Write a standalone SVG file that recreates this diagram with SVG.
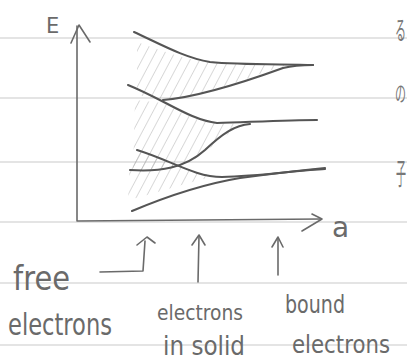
<svg xmlns="http://www.w3.org/2000/svg" width="407" height="362" viewBox="0 0 407 362">
<style>
.rule{stroke:#c9c9c9;stroke-width:1;fill:none}
.axis{stroke:#6a6a6a;stroke-width:1.6;fill:none;stroke-linecap:round;stroke-linejoin:round}
.curve{stroke:#555;stroke-width:2.1;fill:none;stroke-linecap:round}
.hatch{fill:url(#hatch);stroke:none}
.lbl{font-family:"DejaVu Sans","Liberation Sans",sans-serif;fill:#6a6a6a}
.edge{font-family:"Noto Sans CJK JP",sans-serif;fill:#777;font-size:20px}
</style>
<defs>
<pattern id="hatch" width="8.5" height="8.5" patternUnits="userSpaceOnUse" patternTransform="rotate(28)">
<line x1="0" y1="0" x2="0" y2="8.5" stroke="#aaaaaa" stroke-width="0.9"/>
</pattern>
</defs>
<rect width="407" height="362" fill="#ffffff"/>
<g id="paper">
<line class="rule" x1="0" y1="38" x2="407" y2="38"/>
<line class="rule" x1="0" y1="98" x2="407" y2="98"/>
<line class="rule" x1="0" y1="162" x2="407" y2="162"/>
<line class="rule" x1="0" y1="222" x2="407" y2="222"/>
<line class="rule" x1="0" y1="283" x2="407" y2="283"/>
<line class="rule" x1="0" y1="345" x2="407" y2="345"/>
</g>
<g id="hatching">
<path class="hatch" d="M137,42 C160,50 185,60 210,62 C240,64 270,64 292,64 C260,72 220,92 165,100 L137,95 Z"/>
<path class="hatch" d="M135,100 L163,103 C185,115 200,122 217,123 L245,124 C230,130 215,145 205,152 C190,165 165,172 133,172 Z"/>
<path class="hatch" d="M130,157 L140,151 C165,158 190,172 215,176 C190,182 160,192 128,200 Z"/>
</g>
<g id="axes">
<path class="axis" d="M77,26 L77,221 L321,219"/>
<path class="axis" d="M71,43 L79,25 L90,42"/>
<path class="axis" d="M312,214 L322,219 L302,231"/>
<text class="lbl" x="46" y="33" font-size="21">E</text>
<text class="lbl" x="332" y="237" font-size="28">a</text>
</g>
<g id="bands">
<path class="curve" d="M134,32 C160,44 185,58 210,62 C240,65 285,64 313,65"/>
<path class="curve" d="M163,100 C200,97 250,80 283,68 C295,65 305,65 313,65"/>
<path class="curve" d="M128,85 C165,100 190,120 217,123 C250,122 290,120 317,120"/>
<path class="curve" d="M130,170 C160,172 185,168 205,150 C222,134 235,125 250,124"/>
<path class="curve" d="M137,150 C170,160 195,177 222,177 C260,176 300,170 325,169"/>
<path class="curve" d="M132,211 C170,195 210,183 240,178 C270,174 305,170 325,168"/>
</g>
<g id="connectors">
<path class="axis" d="M100,272 L143,271 L145,241"/>
<path class="axis" d="M137,245 L147,237 L155,243"/>
<path class="axis" d="M198,282 L199,236"/>
<path class="axis" d="M192,245 L199,235 L205,245"/>
<path class="axis" d="M278,275 L278,238"/>
<path class="axis" d="M272,247 L278,237 L283,247"/>
</g>
<g id="label-free">
<text class="lbl" x="13" y="290" font-size="33" textLength="57" lengthAdjust="spacingAndGlyphs">free</text>
<text class="lbl" x="8" y="335" font-size="30" textLength="104" lengthAdjust="spacingAndGlyphs">electrons</text>
</g>
<g id="label-solid">
<text class="lbl" x="157" y="320" font-size="22" textLength="86" lengthAdjust="spacingAndGlyphs">electrons</text>
<text class="lbl" x="163" y="355" font-size="26" textLength="82" lengthAdjust="spacingAndGlyphs">in solid</text>
</g>
<g id="label-bound">
<text class="lbl" x="285" y="313" font-size="25" textLength="60" lengthAdjust="spacingAndGlyphs">bound</text>
<text class="lbl" x="292" y="353" font-size="25" textLength="98" lengthAdjust="spacingAndGlyphs">electrons</text>
</g>
<g id="margin">
<text class="edge" transform="translate(395,40) scale(0.55,1.3)">る</text>
<text class="edge" transform="translate(395,101) scale(0.55,1.1)">の</text>
<text class="edge" transform="translate(396,184) scale(0.5,1.5)">子</text>
</g>
</svg>
